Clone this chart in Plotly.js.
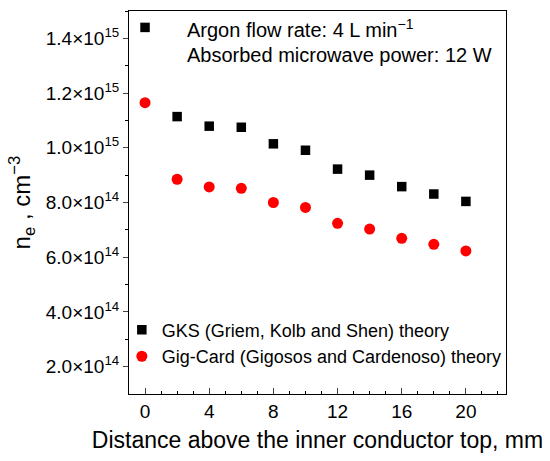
<!DOCTYPE html>
<html>
<head>
<meta charset="utf-8">
<script src="https://cdn.plot.ly/plotly-3.0.1.min.js"></script>
<style>html,body{margin:0;padding:0;background:#fff;}#chart{width:550px;height:461px;}</style>
</head>
<body>
<div id="chart"></div>
<script>
var distance = [0, 2, 4, 6, 8, 10, 12, 14, 16, 18, 20];
var gksValues = [1.44e15, 1.114e15, 1.079e15, 1.075e15, 1.0145e15, 0.991e15, 0.922e15, 0.900e15, 0.858e15, 0.831e15, 0.804e15];
var gigCardValues = [1.165e15, 0.885e15, 0.857e15, 0.852e15, 0.800e15, 0.782e15, 0.724e15, 0.703e15, 0.669e15, 0.647e15, 0.623e15];
var yTickVals = [2e14, 4e14, 6e14, 8e14, 1.0e15, 1.2e15, 1.4e15];
var yTickText = ['2.0×10<sup>14</sup>', '4.0×10<sup>14</sup>', '6.0×10<sup>14</sup>', '8.0×10<sup>14</sup>', '1.0×10<sup>15</sup>', '1.2×10<sup>15</sup>', '1.4×10<sup>15</sup>'];
var yMinorVals = [3e14, 5e14, 7e14, 9e14, 1.1e15, 1.3e15, 1.5e15];
var xTickVals = [0, 4, 8, 12, 16, 20];
var seriesNames = ['GKS (Griem, Kolb and Shen) theory', 'Gig-Card (Gigosos and Cardenoso) theory'];

var font = 'Arial, "Liberation Sans", sans-serif';
var traces = [
  {x: distance, y: gksValues, mode: 'markers', type: 'scatter', name: seriesNames[0],
   marker: {symbol: 'square', size: 9.5, color: '#000000'}},
  {x: distance, y: gigCardValues, mode: 'markers', type: 'scatter', name: seriesNames[1],
   marker: {symbol: 'circle', size: 11, color: '#ff0000'}}
];
var layout = {
  width: 550, height: 461,
  margin: {l: 129, r: 44, t: 11, b: 67},
  paper_bgcolor: '#fff', plot_bgcolor: '#fff',
  font: {family: font, color: '#000', size: 19},
  showlegend: true,
  legend: {x: -0.019, xanchor: 'left', y: 0.215, yanchor: 'top', bgcolor: 'rgba(0,0,0,0)',
           font: {family: font, size: 18, color: '#000'}, tracegroupgap: 0, itemwidth: 30},
  xaxis: {range: [-1, 22.5], tickvals: xTickVals, ticks: 'inside', ticklen: 6, tickwidth: 1,
          showline: true, linecolor: '#000', linewidth: 1, mirror: true, showgrid: false, zeroline: false,
          tickfont: {size: 19},
          minor: {dtick: 1, ticks: 'inside', ticklen: 3, tickcolor: '#000', showgrid: false},
          title: {text: 'Distance above the inner conductor top, mm', font: {size: 23}, standoff: 11}},
  yaxis: {range: [1e14, 1.5e15], tickvals: yTickVals, ticktext: yTickText, ticks: 'outside', ticklen: 5, tickwidth: 1,
          showline: true, linecolor: '#000', linewidth: 1, mirror: true, showgrid: false, zeroline: false,
          tickfont: {size: 19},
          minor: {tickvals: yMinorVals, ticks: 'outside', ticklen: 3, tickcolor: '#000', showgrid: false},
          title: {text: 'n<sub>e</sub> , cm<sup>−3</sup>', font: {size: 24}, standoff: 8}},
  annotations: [
    {xref: 'paper', yref: 'paper', x: 0.148, y: 0.955, xanchor: 'left', yanchor: 'middle', showarrow: false,
     text: 'Argon flow rate: 4 L min<sup>−1</sup>', font: {size: 20}},
    {xref: 'paper', yref: 'paper', x: 0.148, y: 0.884, xanchor: 'left', yanchor: 'middle', showarrow: false,
     text: 'Absorbed microwave power: 12 W', font: {size: 20}}
  ]
};
Plotly.newPlot('chart', traces, layout, {staticPlot: true, displayModeBar: false});
</script>
</body>
</html>
